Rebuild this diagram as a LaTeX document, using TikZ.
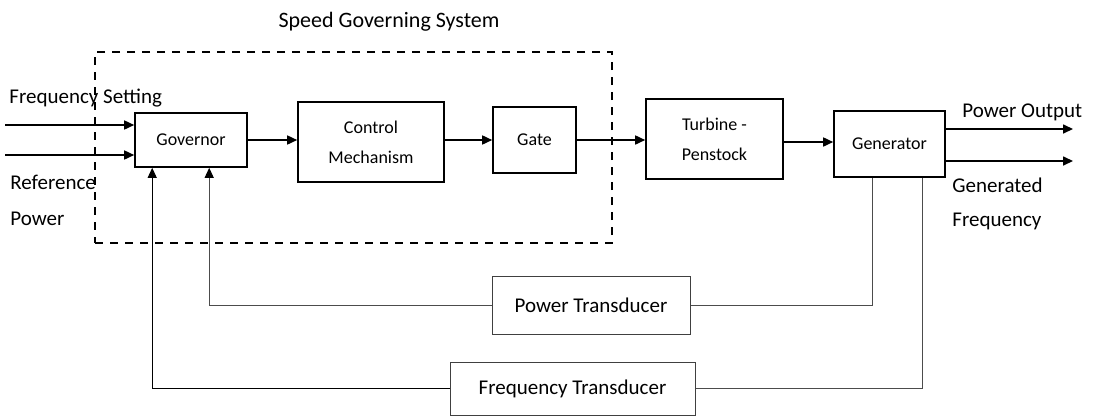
\documentclass[tikz,border=0pt]{standalone}
\usepackage{fontspec}
\setmainfont{Carlito}
\usetikzlibrary{arrows.meta,positioning,calc}
\tikzset{
  block/.style={draw,line width=0.8pt,align=center,inner sep=0pt,
    font=\fontsize{9}{15}\selectfont},
  tbox/.style={draw=black!75,line width=0.5pt,inner sep=0pt,
    font=\fontsize{10.5}{12}\selectfont},
  lbl/.style={anchor=west,inner sep=0pt,font=\fontsize{10.5}{12}\selectfont},
  sgs box/.style={draw,line width=1.3pt,dash pattern=on 4pt off 3.5pt,inner sep=0pt},
  sig/.style={-{Triangle[length=5pt,width=4.5pt]},line width=0.8pt},
  fb/.style={draw=black!70,line width=0.5pt},
  fb tip/.style={fb,-{Triangle[length=5pt,width=4.5pt,color=black]}}
}
\begin{document}
\begin{tikzpicture}[x=0.5pt,y=-0.5pt]
\useasboundingbox (0,0) rectangle (1095,418);
% speed governing system
\node[sgs box,minimum width=258.5pt,minimum height=95.5pt] (sgs) at (353.5,147.5) {};
\node[font=\fontsize{11}{13}\selectfont] (title) at (389,22) {Speed Governing System};
% forward path
\node[block,minimum width=56pt,minimum height=27pt] (gov) at (191,140) {Governor};
\node[block,minimum width=73pt,minimum height=40pt] (ctrl) at (371,142) {Control\\Mechanism};
\node[block,minimum width=41.5pt,minimum height=33pt] (gate) at (534.5,140) {Gate};
\node[block,minimum width=68.5pt,minimum height=40pt] (turb) at (714.5,139) {Turbine -\\Penstock};
\node[block,minimum width=55.5pt,minimum height=33pt] (gen) at (889.5,144) {Generator};
% feedback
\node[tbox,minimum width=99pt,minimum height=29pt] (ptr) at (591,305) {Power Transducer};
\node[tbox,minimum width=122.5pt,minimum height=26.5pt] (ftr) at (572.5,388.5) {Frequency Transducer};
% labels
\node[lbl] (fset) at (9,98) {Frequency Setting};
\node[lbl] (ref) at (10,182) {Reference};
\node[lbl] (refp) at (10,219) {Power};
\node[lbl] (pout lbl) at (962,112) {Power Output};
\node[lbl] (gf) at (952,185) {Generated};
\node[lbl] (gf2) at (952,221) {Frequency};
\coordinate (fin) at (5,125); \coordinate (rin) at (5,155);
\coordinate (pout) at (1073,129); \coordinate (fout) at (1073,161);
\coordinate (gp) at ($(gen.south west)+(39,0)$);
\coordinate (gf tap) at ($(gen.south west)+(89,0)$);
\coordinate (gov p) at ($(gov.south west)+(75,0)$);
\coordinate (gov f) at ($(gov.south west)+(18,0)$);
\draw[sig] (fin) -- (fin -| gov.west); \draw[sig] (rin) -- (rin -| gov.west);
\draw[sig] (gov.east) -- (gov.east -| ctrl.west);
\draw[sig] (ctrl.east |- gate.west) -- (gate.west);
\draw[sig] (gate.east) -- (gate.east -| turb.west);
\draw[sig] ($(turb.east)+(0,3)$) -- ($(turb.east -| gen.west)+(0,3)$);
\draw[sig] (gen.east |- pout) -- (pout); \draw[sig] (gen.east |- fout) -- (fout);
\draw[fb] (ptr.east) -| (gp); \draw[fb] (ftr.east) -| (gf tap);
\draw[fb tip] (ptr.west) -| (gov p);
\draw[fb tip,draw=black] (ftr.west) -| (gov f);
\end{tikzpicture}
\end{document}
